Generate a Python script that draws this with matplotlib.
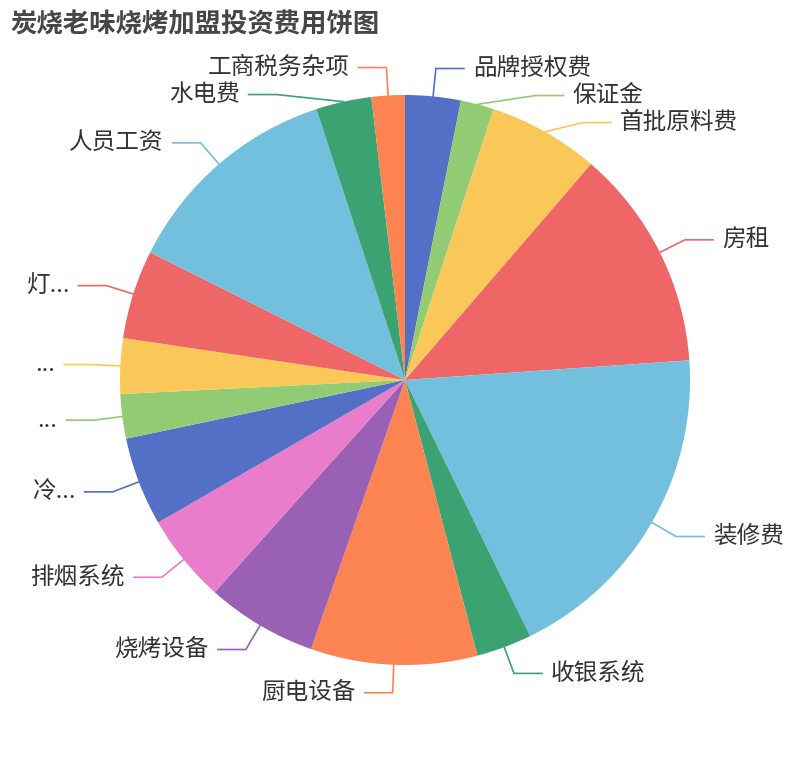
import matplotlib
matplotlib.use('Agg')
import matplotlib.pyplot as plt
import numpy as np

plt.rcParams['font.family'] = ['Noto Sans CJK SC', 'DejaVu Sans']

title = '炭烧老味烧烤加盟投资费用饼图'
names = ['品牌授权费', '保证金', '首批原料费', '房租', '装修费', '收银系统',
         '厨电设备', '烧烤设备', '排烟系统', '冷...', '...', '...',
         '灯...', '人员工资', '水电费', '工商税务杂项']
values = [5, 3, 10, 20, 30, 5, 15, 10, 8, 8, 4, 5, 8, 20, 5, 3]
colors = ['#5470c6', '#91cc75', '#fac858', '#ee6666', '#73c0de', '#3ba272',
          '#fc8452', '#9a60b4', '#ea7ccc', '#5470c6', '#91cc75', '#fac858',
          '#ee6666', '#73c0de', '#3ba272', '#fc8452']

W, H = 810, 760
cx, cy, R = 405, 380, 285
r_elbow = 313
len2 = 28
gap = 27

fig = plt.figure(figsize=(W / 100, H / 100), dpi=100)
ax = fig.add_axes([0, 0, 1, 1])

ax.pie(values, colors=colors, startangle=90, counterclock=False,
       center=(cx, cy), radius=R, wedgeprops=dict(linewidth=0))
# pie resets the limits, so set them afterwards
ax.set_xlim(0, W)
ax.set_ylim(0, H)
ax.set_aspect('equal')
ax.axis('off')

# mid angles, clockwise from top
v = np.array(values, dtype=float)
ends = np.cumsum(v) / v.sum() * 360
mids = ends - v / v.sum() * 180
th = np.radians(mids)

# label y positions, push crowded labels down (away from the top)
ly = cy + r_elbow * np.cos(th)
right = np.sin(th) >= 0
for side in [right, ~right]:
    idx = np.where(side)[0]
    idx = idx[np.argsort(-ly[idx])]
    for a, b in zip(idx[:-1], idx[1:]):
        if ly[a] - ly[b] < gap:
            ly[b] = ly[a] - gap

for i, name in enumerate(names):
    sx = cx + R * np.sin(th[i])
    sy = cy + R * np.cos(th[i])
    dy = ly[i] - cy
    dx = np.sqrt(max(r_elbow ** 2 - dy ** 2, 0))
    sgn = 1 if right[i] else -1
    ex = cx + sgn * dx
    tx = ex + sgn * len2
    ax.plot([sx, ex, tx], [sy, ly[i], ly[i]], color=colors[i], lw=1.2,
            solid_joinstyle='miter')
    ax.text(tx + sgn * 9, ly[i], name, fontsize=17, color='#333333',
            ha='left' if right[i] else 'right', va='center')

fig.text(10 / W, 1 - 25 / H, title, fontsize=19, fontweight='bold',
         color='#464646', ha='left', va='center')

fig.savefig('out.png', dpi=100)
